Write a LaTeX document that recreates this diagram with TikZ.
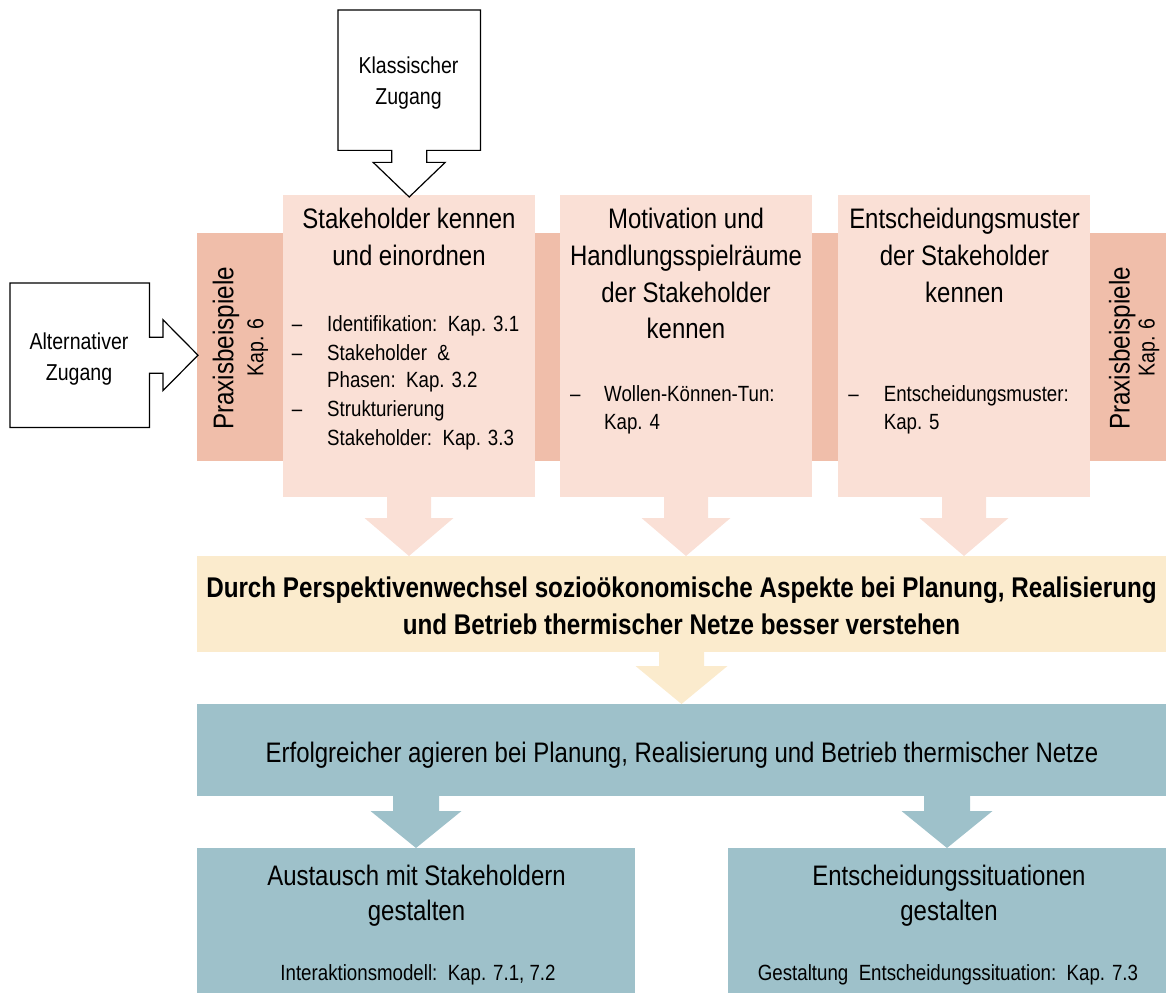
\documentclass[tikz,border=0pt]{standalone}
\usepackage{fontspec}
\setmainfont{Liberation Sans}[FakeStretch=0.85]
\usetikzlibrary{calc}
\definecolor{bandc}{HTML}{F0BEAA}
\definecolor{pinkc}{HTML}{FAE0D6}
\definecolor{yelc}{HTML}{FBEBCD}
\definecolor{tealc}{HTML}{9EC1CA}
\newcommand\dnarrow[6]{% #1 colour, #2 start, #3 target, #4 shaft half, #5 head half, #6 shaft length
  \fill[#1] ($(#2)+(-#4,0)$) -- ($(#2)+(#4,0)$) -- ($(#2)+(#4,#6)$) -- ($(#2)+(#5,#6)$) -- (#2 |- #3) -- ($(#2)+(-#5,#6)$) -- ($(#2)+(-#4,#6)$) -- cycle;}
\tikzset{
  boxfill/.style={fill=#1, draw=none, inner sep=0pt, outer sep=0pt, anchor=north west},
  callout/.style={draw=black, line width=1.2pt, fill=white, line join=miter},
  ttl/.style={font=\fontsize{28.2}{34}\selectfont, inner sep=0pt, anchor=base},
  ttlb/.style={font=\fontsize{28.5}{34}\selectfont\bfseries, inner sep=0pt, anchor=base},
  ctxt/.style={font=\fontsize{23}{28}\selectfont, inner sep=0pt, anchor=base},
  sml/.style={font=\fontsize{22}{26}\selectfont, inner sep=0pt, anchor=base west},
  smc/.style={font=\fontsize{22}{26}\selectfont, inner sep=0pt, anchor=base},
  dsh/.style={font=\fontsize{22}{26}\selectfont, inner sep=0pt, anchor=base},
  pxb/.style={rotate=90, anchor=base, font=\fontsize{28.5}{34}\selectfont, inner sep=0pt},
  pxk/.style={rotate=90, anchor=base, font=\fontsize{23}{28}\selectfont, inner sep=0pt},
}
\begin{document}
\begin{tikzpicture}[x=1pt,y=-1pt]
\useasboundingbox (0,0) rectangle (1167,995);
% coloured areas
\node[boxfill=bandc, minimum width=969pt, minimum height=228pt] (band) at (197,233) {};
\node[boxfill=pinkc, minimum width=252pt, minimum height=302pt] (b1) at (283,195) {};
\node[boxfill=pinkc, minimum width=252pt, minimum height=302pt] (b2) at (560,195) {};
\node[boxfill=pinkc, minimum width=252pt, minimum height=302pt] (b3) at (838,195) {};
\node[boxfill=yelc, minimum width=969pt, minimum height=96pt] (yel) at (197,556) {};
\node[boxfill=tealc, minimum width=969pt, minimum height=92pt] (teal) at (197,704) {};
\node[boxfill=tealc, minimum width=438pt, minimum height=145pt] (bl) at (197,848) {};
\node[boxfill=tealc, minimum width=438pt, minimum height=145pt] (br) at (728,848) {};
% block arrows
\dnarrow{pinkc}{b1.south}{yel.north}{22}{44.5}{21}
\dnarrow{pinkc}{b2.south}{yel.north}{22}{44.5}{21}
\dnarrow{pinkc}{b3.south}{yel.north}{22}{44.5}{21}
\dnarrow{yelc}{yel.south}{teal.north}{22.5}{46}{14}
\coordinate (ta1) at (bl.north |- teal.south);
\coordinate (ta2) at (br.north |- teal.south);
\dnarrow{tealc}{ta1}{bl.north}{23}{45.5}{15}
\dnarrow{tealc}{ta2}{br.north}{23}{45.5}{15}
% callouts
\node[inner sep=0pt, anchor=north west, minimum width=142pt, minimum height=140pt] (kz) at (338,10) {};
\draw[callout] (kz.north west) -- (kz.north east) -- (kz.south east) -- ($(kz.south)+(17.5,0)$) -- ($(kz.south)+(17.5,12)$) -- ($(kz.south)+(36,12)$) -- ($(kz.south |- b1.north)+(0,2)$) -- ($(kz.south)+(-36,12)$) -- ($(kz.south)+(-17.5,12)$) -- ($(kz.south)+(-17.5,0)$) -- (kz.south west) -- cycle;
\node[inner sep=0pt, anchor=north west, minimum width=139pt, minimum height=144pt] (az) at (10,283) {};
\draw[callout] (az.north west) -- (az.north east) -- ($(az.east)+(0,-18)$) -- ($(az.east)+(13.5,-18)$) -- ($(az.east)+(13.5,-35.5)$) -- ($(az.east -| band.west)+(1,0)$) -- ($(az.east)+(13.5,35.5)$) -- ($(az.east)+(13.5,18)$) -- ($(az.east)+(0,18)$) -- (az.south east) -- (az.south west) -- cycle;
\node[ctxt] (kz1) at (408.5,73.3) {Klassischer};
\node[ctxt] (kz2) at (408.5,104.3) {Zugang};
\node[ctxt] (az1) at (79,349) {Alternativer};
\node[ctxt] (az2) at (79,380) {Zugang};
% Praxisbeispiele
\node[pxb] (px1) at (233.3,348.5) {Praxisbeispiele};
\node[pxk] (pk1) at (263.3,347.5) {Kap. 6};
\node[pxb] (px2) at (1129.5,348.5) {Praxisbeispiele};
\node[pxk] (pk2) at (1154.5,347.5) {Kap. 6};
% box 1
\node[ttl] (b1a) at (409,229) {Stakeholder kennen};
\node[ttl] (b1b) at (409,265.5) {und einordnen};
\node[dsh] (d11) at (297,331) {–};
\node[sml] (l11) at (327,331) {Identifikation:\ \ Kap. 3.1};
\node[dsh] (d12) at (297,360) {–};
\node[sml] (l12) at (327,360) {Stakeholder\ \ \&};
\node[sml] (l13) at (327,387) {Phasen:\ \ Kap. 3.2};
\node[dsh] (d13) at (297,416) {–};
\node[sml] (l14) at (327,416) {Strukturierung};
\node[sml] (l15) at (327,445) {Stakeholder:\ \ Kap. 3.3};
% box 2
\node[ttl] (b2a) at (686,229) {Motivation und};
\node[ttl] (b2b) at (686,265.5) {Handlungsspielräume};
\node[ttl] (b2c) at (686,302) {der Stakeholder};
\node[ttl] (b2d) at (686,338.5) {kennen};
\node[dsh] (d21) at (575.4,401) {–};
\node[sml] (l21) at (604,401) {Wollen-Können-Tun:};
\node[sml] (l22) at (604,429) {Kap. 4};
% box 3
\node[ttl] (b3a) at (964.5,229) {Entscheidungsmuster};
\node[ttl] (b3b) at (964.5,265.5) {der Stakeholder};
\node[ttl] (b3c) at (964.5,302) {kennen};
\node[dsh] (d31) at (853.5,401) {–};
\node[sml] (l31) at (883.6,401) {Entscheidungsmuster:};
\node[sml] (l32) at (883.6,429) {Kap. 5};
% yellow
\node[ttlb] (y1) at (681.5,597.3) {Durch Perspektivenwechsel sozioökonomische Aspekte bei Planung, Realisierung};
\node[ttlb] (y2) at (681.5,634.3) {und Betrieb thermischer Netze besser verstehen};
% teal
\node[ttl] (t1) at (682,762) {Erfolgreicher agieren bei Planung, Realisierung und Betrieb thermischer Netze};
\node[ttl] (bl1) at (416.5,885) {Austausch mit Stakeholdern};
\node[ttl] (bl2) at (416.5,920.5) {gestalten};
\node[smc] (bl3) at (418,980) {Interaktionsmodell:\ \ Kap. 7.1, 7.2};
\node[ttl] (br1) at (949,885) {Entscheidungssituationen};
\node[ttl] (br2) at (949,920.5) {gestalten};
\node[smc] (br3) at (948,980) {Gestaltung\ \ Entscheidungssituation:\ \ Kap. 7.3};
\end{tikzpicture}
\end{document}
